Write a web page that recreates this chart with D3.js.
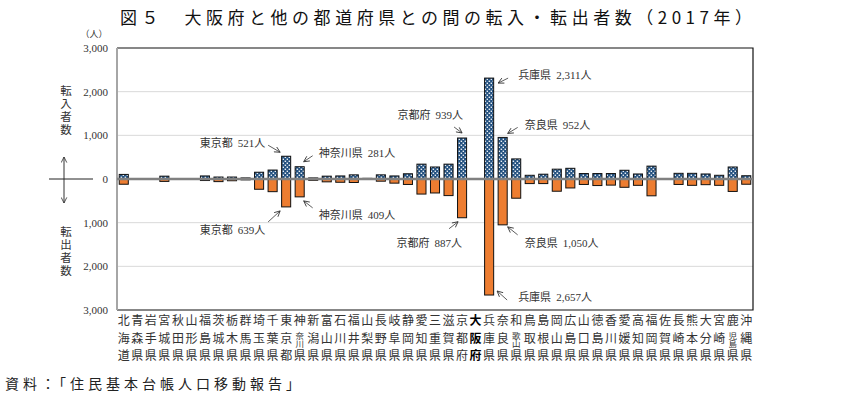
<!DOCTYPE html>
<html><head><meta charset="utf-8">
<script src="https://cdn.jsdelivr.net/npm/d3@7"></script>
<style>body{margin:0;background:#fff}</style>
</head><body><svg id="c" width="844" height="400"></svg>
<script>
// ---- data ----
const prefectures = ["北海道","青森県","岩手県","宮城県","秋田県","山形県","福島県","茨城県","栃木県","群馬県",
  "埼玉県","千葉県","東京都","神奈川県","新潟県","富山県","石川県","福井県","山梨県","長野県",
  "岐阜県","静岡県","愛知県","三重県","滋賀県","京都府","大阪府","兵庫県","奈良県","和歌山県",
  "鳥取県","島根県","岡山県","広島県","山口県","徳島県","香川県","愛媛県","高知県","福岡県",
  "佐賀県","長崎県","熊本県","大分県","宮崎県","鹿児島県","沖縄県"];
const inflow = [105,0,0,65,0,0,70,45,45,25,
  155,205,521,281,25,65,70,95,15,95,
  70,120,340,275,340,939,0,2311,952,460,
  85,110,225,245,125,125,125,200,115,295,
  10,130,130,115,85,275,75];
const outflow = [120,0,0,55,0,0,35,60,40,20,
  235,290,639,409,30,65,75,80,10,50,
  95,125,345,320,380,887,0,2657,1050,440,
  105,105,280,205,125,150,140,190,145,385,
  10,125,145,130,145,285,120];
const yTicks = [-3000,-2000,-1000,0,1000,2000,3000];
const gridValues = [-2000,-1000,1000,2000];
const annotations = [
  {pref:"東京都", series:"in"}, {pref:"東京都", series:"out"},
  {pref:"神奈川県", series:"in"}, {pref:"神奈川県", series:"out"},
  {pref:"京都府", series:"in"}, {pref:"京都府", series:"out"},
  {pref:"兵庫県", series:"in"}, {pref:"兵庫県", series:"out"},
  {pref:"奈良県", series:"in"}, {pref:"奈良県", series:"out"}
];
const highlight = "大阪府";
const titleText = "図５　大阪府と他の都道府県との間の転入・転出者数（2017年）";
const sourceText = "資料：「住民基本台帳人口移動報告」";
const inLabel = "転入者数";
const outLabel = "転出者数";

// ---- layout ----
const svg = d3.select("#c");
const L = 117, R = 753, T = 48, B = 310;
const jp = "'Noto Sans CJK JP',sans-serif";
const num = "'Liberation Serif','Noto Sans CJK JP',serif";

const x = d3.scaleBand().domain(d3.range(prefectures.length)).range([L, R]).paddingInner(0.33).paddingOuter(0.165);
const y = d3.scaleLinear().domain([-3000, 3000]).range([B, T]);
const cx = i => x(i) + x.bandwidth() / 2;

const defs = svg.append("defs");
const pat = defs.append("pattern").attr("id","dots").attr("patternUnits","userSpaceOnUse").attr("width",4).attr("height",4);
pat.append("rect").attr("width",4).attr("height",4).attr("fill","#22507f");
pat.append("rect").attr("x",0.6).attr("y",0.6).attr("width",1.5).attr("height",1.3).attr("fill","#fff");
pat.append("rect").attr("x",2.6).attr("y",2.6).attr("width",1.5).attr("height",1.3).attr("fill","#fff");

function vMarker(id){
  defs.append("marker").attr("id",id).attr("viewBox","0 0 10 10").attr("refX",9).attr("refY",5)
    .attr("markerWidth",7).attr("markerHeight",7).attr("markerUnits","userSpaceOnUse").attr("orient","auto")
    .append("path").attr("d","M1,1 L9,5 L1,9").attr("fill","none").attr("stroke","#333").attr("stroke-width",1.2);
}
vMarker("ah");

// title
svg.append("text").attr("x",120).attr("y",24).attr("font-family",jp).attr("font-size",17)
  .attr("textLength",632).attr("lengthAdjust","spacing").attr("fill","#111").text(titleText);
svg.append("text").attr("x",94).attr("y",37).attr("font-family",jp).attr("font-size",9).attr("text-anchor","middle").attr("fill","#333").text("（人）");

// grid
svg.append("g").selectAll("line").data(gridValues).join("line")
  .attr("x1",L).attr("x2",R).attr("y1",d=>y(d)).attr("y2",d=>y(d)).attr("stroke","#d9d9d9").attr("stroke-width",1);

// frame
svg.append("path").attr("d",`M${L},${T} H${R} V${B} H${L}`).attr("fill","none").attr("stroke","#111").attr("stroke-width",1.2);
svg.append("line").attr("x1",L).attr("x2",L).attr("y1",T).attr("y2",B).attr("stroke","#a6a6a6").attr("stroke-width",2);

// axis
const ax = svg.append("g").attr("transform",`translate(${L},0)`)
  .call(d3.axisLeft(y).tickValues(yTicks).tickSize(0).tickPadding(9).tickFormat(d=>d3.format(",")(Math.abs(d))));
ax.select(".domain").remove();
ax.selectAll("text").attr("font-family",num).attr("font-size",11).attr("fill","#333");

// bars
const inData = inflow.map((v,i)=>({v,i})).filter(d=>d.v>0);
const outData = outflow.map((v,i)=>({v,i})).filter(d=>d.v>0);
svg.append("g").selectAll("rect").data(inData).join("rect")
  .attr("x",d=>x(d.i)).attr("width",x.bandwidth())
  .attr("y",d=>y(d.v)).attr("height",d=>y(0)-y(d.v))
  .attr("fill","url(#dots)").attr("stroke","#111").attr("stroke-width",1);
svg.append("g").selectAll("rect").data(outData).join("rect")
  .attr("x",d=>x(d.i)).attr("width",x.bandwidth())
  .attr("y",y(0)).attr("height",d=>y(-d.v)-y(0))
  .attr("fill","#ed7d31").attr("stroke","#111").attr("stroke-width",1);

// zero line
svg.append("line").attr("x1",L).attr("x2",R).attr("y1",y(0)).attr("y2",y(0)).attr("stroke","#808080").attr("stroke-width",2.6);

// left side labels (vertical writing)
function vText(txt, yc){
  svg.append("text").attr("x",66).attr("y",yc).attr("font-family",jp).attr("font-size",11.5)
    .attr("fill","#333").attr("text-anchor","middle")
    .attr("writing-mode","vertical-rl").style("writing-mode","vertical-rl")
    .style("letter-spacing","1.5px").text(txt);
}
vText(inLabel, 111);
vText(outLabel, 252);
svg.append("line").attr("x1",64).attr("x2",64).attr("y1",y(0)).attr("y2",157).attr("stroke","#333").attr("marker-end","url(#ah)");
svg.append("line").attr("x1",64).attr("x2",64).attr("y1",y(0)).attr("y2",203).attr("stroke","#333").attr("marker-end","url(#ah)");
svg.append("line").attr("x1",49).attr("x2",93).attr("y1",y(0)).attr("y2",y(0)).attr("stroke","#222").attr("stroke-width",1);

// x labels
const xl = svg.append("g").attr("font-family",jp).attr("text-anchor","middle");
prefectures.forEach((name,i)=>{
  const chars = Array.from(name);
  const bold = name === highlight;
  const g = xl.append("g").attr("fill", bold ? "#000" : "#333").attr("font-weight", bold ? "bold" : "normal");
  const px = cx(i);
  if (chars.length === 3) {
    chars.forEach((c,k)=>g.append("text").attr("x",px).attr("y",325+k*17.5).attr("font-size",12).text(c));
  } else {
    g.append("text").attr("x",px).attr("y",325).attr("font-size",12).text(chars[0]);
    g.append("text").attr("x",px).attr("y",340).attr("font-size",8.5)
      .attr("writing-mode","vertical-rl").style("writing-mode","vertical-rl")
      .attr("text-anchor","middle").text(chars[1] + chars[2]);
    g.append("text").attr("x",px).attr("y",360).attr("font-size",12).text(chars[3]);
  }
});

// annotations
const annLayout = {
  "東京都|in":   {tx:-21, ty:-13, anchor:"end",   a:[-18,-11,-6,-4]},
  "東京都|out":  {tx:-21, ty:23,  anchor:"end",   a:[-18,15,-6,4]},
  "神奈川県|in": {tx:19,  ty:-14, anchor:"start", a:[13,-11,4,-5]},
  "神奈川県|out":{tx:19,  ty:18,  anchor:"start", a:[13,11,4,4]},
  "京都府|in":   {tx:1,   ty:-23, anchor:"end",   a:[-8,-11,0,-5]},
  "京都府|out":  {tx:0,   ty:25,  anchor:"end",   a:[-13,11,-4,4]},
  "兵庫県|in":   {tx:29,  ty:-3,  anchor:"start", a:[19,0,9,5]},
  "兵庫県|out":  {tx:29,  ty:2,   anchor:"start", a:[18,5,8,-4]},
  "奈良県|in":   {tx:22,  ty:-12, anchor:"start", a:[15,-10,5,-4]},
  "奈良県|out":  {tx:22,  ty:18,  anchor:"start", a:[15,10,5,2]}
};
const ag = svg.append("g");
annotations.forEach(an=>{
  const i = prefectures.indexOf(an.pref);
  const v = an.series === "in" ? inflow[i] : outflow[i];
  const px = cx(i), py = an.series === "in" ? y(v) : y(-v);
  const lay = annLayout[an.pref + "|" + an.series];
  const t = ag.append("text").attr("x",px+lay.tx).attr("y",py+lay.ty+4).attr("text-anchor",lay.anchor)
    .attr("font-size",11).attr("fill","#333");
  t.append("tspan").attr("font-family",jp).text(an.pref);
  t.append("tspan").attr("font-family",num).attr("dx",5).text(d3.format(",")(v));
  t.append("tspan").attr("font-family",jp).text("人");
  ag.append("line").attr("x1",px+lay.a[0]).attr("y1",py+lay.a[1]).attr("x2",px+lay.a[2]).attr("y2",py+lay.a[3])
    .attr("stroke","#333").attr("stroke-width",0.8).attr("marker-end","url(#ah)");
});

// source
svg.append("text").attr("x",5).attr("y",389).attr("font-family",jp).attr("font-size",14)
  .attr("textLength",295).attr("lengthAdjust","spacing").attr("fill","#222").text(sourceText);
</script>
</body></html>
